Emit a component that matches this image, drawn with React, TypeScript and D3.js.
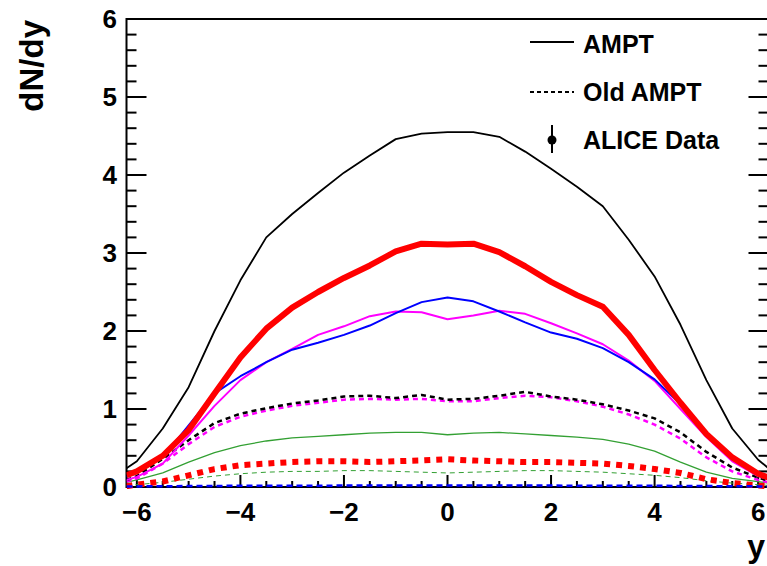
import React from "react";
import * as d3 from "d3";

const W = 767;
const H = 566;

const rapidity = [-6.2, -6, -5.5, -5, -4.5, -4, -3.5, -3, -2.5, -2, -1.5, -1, -0.5, 0, 0.5, 1, 1.5, 2, 2.5, 3, 3.5, 4, 4.5, 5, 5.5, 6, 6.2];

const ampt = [0.24, 0.33, 0.75, 1.28, 2.0, 2.65, 3.2, 3.5, 3.77, 4.03, 4.25, 4.46, 4.53, 4.55, 4.55, 4.49, 4.3, 4.08, 3.85, 3.6, 3.17, 2.7, 2.08, 1.37, 0.75, 0.35, 0.24];
const amptRed = [0.15, 0.2, 0.4, 0.73, 1.2, 1.66, 2.03, 2.3, 2.5, 2.68, 2.84, 3.02, 3.12, 3.11, 3.12, 3.01, 2.83, 2.63, 2.46, 2.31, 1.95, 1.5, 1.08, 0.68, 0.38, 0.17, 0.12];
const amptBlue = [0.13, 0.18, 0.38, 0.79, 1.2, 1.42, 1.6, 1.76, 1.85, 1.95, 2.07, 2.23, 2.37, 2.43, 2.38, 2.25, 2.11, 1.98, 1.9, 1.78, 1.6, 1.38, 1.06, 0.7, 0.38, 0.18, 0.13];
const amptMagenta = [0.09, 0.13, 0.3, 0.66, 1.04, 1.37, 1.6, 1.77, 1.95, 2.06, 2.19, 2.25, 2.24, 2.15, 2.2, 2.26, 2.22, 2.1, 1.97, 1.83, 1.62, 1.36, 1.0, 0.64, 0.33, 0.14, 0.1];
const amptGreen = [0.06, 0.09, 0.18, 0.32, 0.44, 0.53, 0.59, 0.63, 0.65, 0.67, 0.69, 0.7, 0.7, 0.67, 0.69, 0.7, 0.68, 0.66, 0.64, 0.61, 0.55, 0.46, 0.32, 0.19, 0.11, 0.07, 0.05];
const oldBlack = [0.09, 0.14, 0.36, 0.6, 0.82, 0.94, 1.01, 1.07, 1.11, 1.16, 1.17, 1.14, 1.18, 1.12, 1.13, 1.17, 1.22, 1.16, 1.12, 1.06, 0.98, 0.88, 0.7, 0.45, 0.25, 0.12, 0.08];
const oldMagenta = [0.07, 0.11, 0.3, 0.55, 0.77, 0.9, 0.98, 1.04, 1.08, 1.12, 1.13, 1.12, 1.13, 1.1, 1.1, 1.14, 1.17, 1.15, 1.1, 1.03, 0.93, 0.8, 0.62, 0.38, 0.2, 0.09, 0.06];
const oldRed = [0.01, 0.03, 0.07, 0.15, 0.23, 0.28, 0.3, 0.32, 0.33, 0.33, 0.32, 0.33, 0.34, 0.355, 0.34, 0.33, 0.32, 0.32, 0.31, 0.3, 0.27, 0.23, 0.18, 0.1, 0.05, 0.02, 0.01];
const oldGreen = [0.02, 0.03, 0.06, 0.1, 0.14, 0.17, 0.19, 0.2, 0.2, 0.21, 0.21, 0.2, 0.19, 0.18, 0.19, 0.2, 0.21, 0.21, 0.2, 0.19, 0.17, 0.15, 0.12, 0.08, 0.05, 0.03, 0.02];
const oldBlue = [0.005, 0.008, 0.01, 0.012, 0.014, 0.015, 0.016, 0.017, 0.017, 0.018, 0.018, 0.018, 0.018, 0.018, 0.018, 0.018, 0.018, 0.018, 0.017, 0.017, 0.016, 0.015, 0.014, 0.012, 0.01, 0.008, 0.005];

const xTickLabels = [-6, -4, -2, 0, 2, 4, 6];
const yTickLabels = [0, 1, 2, 3, 4, 5, 6];
const legendLabels = ["AMPT", "Old AMPT", "ALICE Data"];

type Series = { values: number[]; color: string; width: number; dash?: string };

const series: Series[] = [
  { values: oldGreen, color: "#33a033", width: 1, dash: "5,4" },
  { values: oldRed, color: "#ff0000", width: 6, dash: "6,6" },
  { values: amptGreen, color: "#33a033", width: 1.3 },
  { values: oldMagenta, color: "#ff00ff", width: 2.5, dash: "5,4" },
  { values: oldBlack, color: "#000000", width: 2.5, dash: "5,4" },
  { values: amptMagenta, color: "#ff00ff", width: 2 },
  { values: amptBlue, color: "#0000ff", width: 2 },
  { values: amptRed, color: "#ff0000", width: 6 },
  { values: ampt, color: "#000000", width: 1.8 },
  { values: oldBlue, color: "#0000ff", width: 2.5, dash: "6,4" },
];

const FONT = "'Liberation Sans', Arial, Helvetica, sans-serif";

export default function App() {
  const left = 126.5;
  const right = 768.5;
  const top = 19;
  const bottom = 487;
  const x = d3.scaleLinear().domain([-6.2, 6.2]).range([left, right]);
  const y = d3.scaleLinear().domain([0, 6]).range([bottom, top]);

  const line = (vals: number[]) =>
    d3
      .line<number>()
      .x((_, i) => x(rapidity[i]))
      .y((v) => y(v))(vals) || "";

  const yMinor = d3.range(0, 6.0001, 0.2);
  const xMinor = d3.range(-6, 6.0001, 0.5);

  return (
    <svg
      width={W}
      height={H}
      style={{ position: "absolute", left: 0, top: 0, background: "#fff" }}
      fontFamily={FONT}
    >
      <defs>
        <clipPath id="plot">
          <rect x={left} y={top} width={right - left} height={bottom - top + 2} />
        </clipPath>
      </defs>
      <rect x={0} y={0} width={W} height={H} fill="#fff" />

      {/* frame */}
      <rect x={left} y={top} width={right - left} height={bottom - top} fill="none" stroke="#000" strokeWidth={2} />

      {/* y ticks left and right */}
      {yMinor.map((v, i) => {
        const major = Math.abs(v - Math.round(v)) < 1e-6;
        const len = major ? 20 : 10;
        return (
          <g key={"yt" + i}>
            <line x1={left} x2={left + len} y1={y(v)} y2={y(v)} stroke="#000" strokeWidth={2} />
            <line x1={right} x2={right - len} y1={y(v)} y2={y(v)} stroke="#000" strokeWidth={2} />
          </g>
        );
      })}
      {/* x ticks */}
      {xMinor.map((v, i) => {
        const major = Math.abs(v / 2 - Math.round(v / 2)) < 1e-6;
        const len = major ? 12 : 6;
        return <line key={"xt" + i} x1={x(v)} x2={x(v)} y1={bottom} y2={bottom - len} stroke="#000" strokeWidth={2} />;
      })}

      {/* curves */}
      <g clipPath="url(#plot)">
        {series.map((s, i) => (
          <path
            key={i}
            d={line(s.values)}
            fill="none"
            stroke={s.color}
            strokeWidth={s.width}
            strokeDasharray={s.dash}
            strokeLinejoin="round"
          />
        ))}
      </g>

      {/* tick labels */}
      {yTickLabels.map((v) => (
        <text key={"yl" + v} x={117} y={y(v)} dy="0.36em" textAnchor="end" fontSize={26} fontWeight="bold">
          {v}
        </text>
      ))}
      {xTickLabels.map((v) => (
        <text key={"xl" + v} x={x(v)} y={521} textAnchor="middle" fontSize={26} fontWeight="bold">
          {v < 0 ? "\u2212" + Math.abs(v) : String(v)}
        </text>
      ))}

      {/* axis titles */}
      <text transform="translate(43,20) rotate(-90)" textAnchor="end" fontSize={33} fontWeight="bold">
        dN/dy
      </text>
      <text x={765} y={557} textAnchor="end" fontSize={32} fontWeight="bold">
        y
      </text>

      {/* legend */}
      <g fontSize={25} fontWeight="bold">
        <line x1={530} x2={574} y1={42} y2={42} stroke="#000" strokeWidth={1.8} />
        <text x={583} y={53}>{legendLabels[0]}</text>
        <line x1={530} x2={574} y1={92} y2={92} stroke="#000" strokeWidth={1.8} strokeDasharray="4,3" />
        <text x={583} y={101}>{legendLabels[1]}</text>
        <line x1={552} x2={552} y1={125} y2={153} stroke="#000" strokeWidth={2} />
        <circle cx={552} cy={140} r={4.5} fill="#000" />
        <text x={583} y={149}>{legendLabels[2]}</text>
      </g>
    </svg>
  );
}
